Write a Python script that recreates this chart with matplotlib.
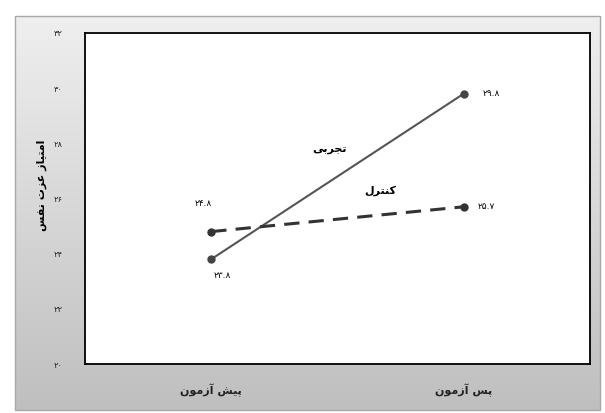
import numpy as np
import matplotlib
matplotlib.use('Agg')
import matplotlib.pyplot as plt

plt.rcParams['font.family'] = ['DejaVu Sans']

# داده ها
groups = ['پیش آزمون', 'پس آزمون']
exp_vals = [23.8, 29.8]
ctrl_vals = [24.8, 25.7]
exp_labels = ['۲۳.۸', '۲۹.۸']
ctrl_labels = ['۲۴.۸', '۲۵.۷']
yticks = [20, 22, 24, 26, 28, 30, 32]
ytick_labels = ['۲۰', '۲۲', '۲۴', '۲۶', '۲۸', '۳۰', '۳۲']
ylabel = 'امتیاز عزت نفس'
exp_name = 'تجربی'
ctrl_name = 'کنترل'

# شکل دهی ساده حروف فارسی (matplotlib خودش این کار را نمی کند)
forms = {
    'ا': ('\uFE8D', '\uFE8E', None, None),
    'آ': ('\uFE81', '\uFE82', None, None),
    'ب': ('\uFE8F', '\uFE90', '\uFE91', '\uFE92'),
    'پ': ('\uFB56', '\uFB57', '\uFB58', '\uFB59'),
    'ت': ('\uFE95', '\uFE96', '\uFE97', '\uFE98'),
    'ج': ('\uFE9D', '\uFE9E', '\uFE9F', '\uFEA0'),
    'ر': ('\uFEAD', '\uFEAE', None, None),
    'ز': ('\uFEAF', '\uFEB0', None, None),
    'س': ('\uFEB1', '\uFEB2', '\uFEB3', '\uFEB4'),
    'ش': ('\uFEB5', '\uFEB6', '\uFEB7', '\uFEB8'),
    'ع': ('\uFEC9', '\uFECA', '\uFECB', '\uFECC'),
    'ف': ('\uFED1', '\uFED2', '\uFED3', '\uFED4'),
    'ک': ('\uFB8E', '\uFB8F', '\uFB90', '\uFB91'),
    'ل': ('\uFEDD', '\uFEDE', '\uFEDF', '\uFEE0'),
    'م': ('\uFEE1', '\uFEE2', '\uFEE3', '\uFEE4'),
    'ن': ('\uFEE5', '\uFEE6', '\uFEE7', '\uFEE8'),
    'و': ('\uFEED', '\uFEEE', None, None),
    'ی': ('\uFBFC', '\uFBFD', '\uFBFE', '\uFBFF'),
}


def fa(text):
    out = []
    for i, c in enumerate(text):
        if c not in forms:
            out.append(c)
            continue
        prev = text[i - 1] if i > 0 else None
        nxt = text[i + 1] if i + 1 < len(text) else None
        jp = prev in forms and forms[prev][2] is not None
        jn = nxt in forms and forms[c][2] is not None
        iso, fin, ini, med = forms[c]
        if jp and jn:
            out.append(med)
        elif jp:
            out.append(fin)
        elif jn:
            out.append(ini)
        else:
            out.append(iso)
    return ''.join(out)[::-1]


W, H = 605, 413
fig = plt.figure(figsize=(W / 100, H / 100), dpi=100)
fig.patch.set_facecolor('white')

# پس زمینه خاکستری
bg = fig.add_axes([0, 0, 1, 1])
bg.set_xlim(0, W)
bg.set_ylim(H, 0)
bg.axis('off')
grad = np.linspace(0, 1, 256).reshape(-1, 1)
bg.imshow(grad, cmap=matplotlib.colors.LinearSegmentedColormap.from_list('g', ['#efefef', '#bfbfbf']),
          extent=(15, 600, 410, 16), aspect='auto')
bg.add_patch(plt.Rectangle((15, 16), 585, 394, fill=False, edgecolor='#a8a8a8', lw=1))

ax = fig.add_axes([85 / W, (H - 364) / H, 505 / W, 331 / H])
ax.set_facecolor('white')
x = np.arange(len(groups))

ax.plot(x, exp_vals, color='#555555', lw=1.5, marker='o', ms=5, mfc='#444444', mec='#444444')
ax.plot(x, ctrl_vals, color='#333333', lw=2.2, ls=(0, (5, 3)), marker='o', ms=5,
        mfc='#333333', mec='#333333')

ax.set_xlim(-0.5, 1.5)
ax.set_ylim(20, 32)
ax.set_yticks(yticks)
ax.set_yticklabels(ytick_labels, fontsize=6, color='#222222')
ax.set_xticks(x)
ax.set_xticklabels([fa(g) for g in groups], fontsize=8, fontweight='bold', color='#222222')
ax.tick_params(axis='both', length=0)
ax.tick_params(axis='y', pad=16)
ax.tick_params(axis='x', pad=14)
for s in ax.spines.values():
    s.set_color('black')
    s.set_linewidth(1.3)

ax.set_ylabel(fa(ylabel), fontsize=8, fontweight='bold')
ax.yaxis.set_label_coords(-0.075, 0.54)

# برچسب مقادیر
ax.annotate(exp_labels[0], (x[0], exp_vals[0]), xytext=(8, -12), textcoords='offset points',
            fontsize=6.5, ha='center', va='center')
ax.annotate(exp_labels[1], (x[1], exp_vals[1]), xytext=(20, 0), textcoords='offset points',
            fontsize=6.5, ha='center', va='center')
ax.annotate(ctrl_labels[0], (x[0], ctrl_vals[0]), xytext=(-6, 20), textcoords='offset points',
            fontsize=6.5, ha='center', va='center')
ax.annotate(ctrl_labels[1], (x[1], ctrl_vals[1]), xytext=(16, 0), textcoords='offset points',
            fontsize=6.5, ha='center', va='center')

ax.text(0.47, 27.75, fa(exp_name), fontsize=8, fontweight='bold', ha='center', va='center')
ax.text(0.67, 26.3, fa(ctrl_name), fontsize=8, fontweight='bold', ha='center', va='center')

fig.savefig('out.png', dpi=100)
